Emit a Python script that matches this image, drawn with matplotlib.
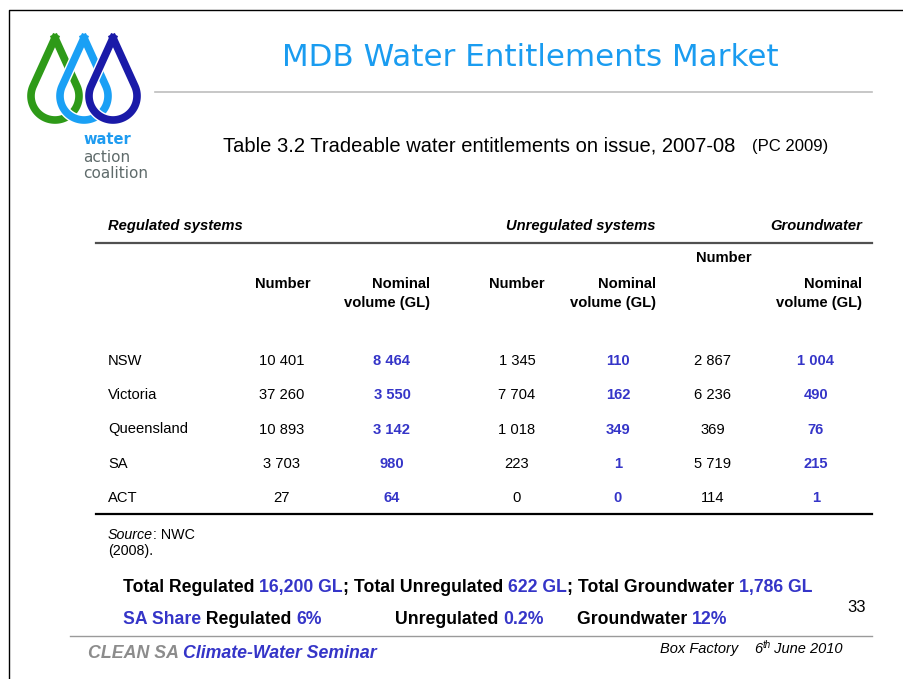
import numpy as np
import matplotlib.pyplot as plt
from matplotlib import font_manager
import matplotlib.patheffects as pe

# table data (Table 3.2, PC 2009)
states = ['NSW', 'Victoria', 'Queensland', 'SA', 'ACT']
reg_number = [10401, 37260, 10893, 3703, 27]
reg_volume = [8464, 3550, 3142, 980, 64]
unreg_number = [1345, 7704, 1018, 223, 0]
unreg_volume = [110, 162, 349, 1, 0]
gw_number = [2867, 6236, 369, 5719, 114]
gw_volume = [1004, 490, 76, 215, 1]

names = {f.name for f in font_manager.fontManager.ttflist}
NARROW = 'Liberation Sans Narrow' in names
ARIAL = 'Liberation Sans'
NFONT = 'Liberation Sans Narrow' if NARROW else ARIAL
nscale = 1.0 if NARROW else 0.82

BLUE = '#3535c8'
TITLE_BLUE = '#1a9cf0'

fig = plt.figure(figsize=(9.04, 6.79), dpi=100)
ax = fig.add_axes([0, 0, 1, 1])
ax.set_xlim(0, 904)
ax.set_ylim(679, 0)
ax.axis('off')
renderer = fig.canvas.get_renderer()

# slide border
ax.plot([9.5, 9.5, 904], [679, 9.5, 9.5], color='black', lw=1)


# logo drops
def drop(cx, tip, cy, r, color):
    d = cy - tip
    a0 = np.arccos(r / d)
    th = np.linspace(a0, 2 * np.pi - a0, 120)
    xs = np.concatenate([[cx], cx + r * np.sin(th), [cx]])
    ys = np.concatenate([[tip], cy - r * np.cos(th), [tip]])
    ax.plot(xs, ys, color=color, lw=5.5, solid_joinstyle='miter',
            path_effects=[pe.Stroke(linewidth=7.5, foreground='white'), pe.Normal()])


drop(55, 38, 96, 24, '#2e9a18')
drop(84, 38, 96, 24, '#1aa0f5')
drop(113, 38, 96, 24, '#1a1aa8')

ax.text(83, 140, 'water', fontsize=10.5, fontweight='bold', color='#1e9bf0', va='center')
ax.text(83, 157, 'action', fontsize=11, color='#5f6b6b', va='center')
ax.text(83, 173, 'coalition', fontsize=11, color='#5f6b6b', va='center')

# titles
ax.text(530, 57, 'MDB Water Entitlements Market', fontsize=22.3, color=TITLE_BLUE,
        ha='center', va='center')
ax.plot([155, 872], [92, 92], color='#bdbdbd', lw=1.2)

ax.text(223, 146, 'Table 3.2 Tradeable water entitlements on issue, 2007-08',
        family=ARIAL, fontsize=14.5, va='center')
ax.text(752, 147, '(PC 2009)', family=ARIAL, fontsize=12, va='center')

# table header
hkw = dict(family=NFONT, fontsize=13 * nscale, fontweight='bold', va='center')
ax.text(108, 226, 'Regulated systems', style='italic', ha='left', **hkw)
ax.text(656, 226, 'Unregulated systems', style='italic', ha='right', **hkw)
ax.text(862, 226, 'Groundwater', style='italic', ha='right', **hkw)
ax.plot([96, 872], [243, 243], color='#505050', lw=1.6)

ax.text(724, 258, 'Number', ha='center', **hkw)
ax.text(283, 284, 'Number', ha='center', **hkw)
ax.text(517, 284, 'Number', ha='center', **hkw)
for xr in [430, 656, 862]:
    ax.text(xr, 284, 'Nominal', ha='right', **hkw)
    ax.text(xr, 303, 'volume (GL)', ha='right', **hkw)

# table body
col_x = [282, 392, 517, 618, 713, 816]
row_y = np.linspace(361, 498, len(states))
columns = [reg_number, reg_volume, unreg_number, unreg_volume, gw_number, gw_volume]
bkw = dict(family=NFONT, fontsize=13 * nscale, va='center')


def fmt(v):
    return f'{v:,}'.replace(',', ' ')


for i, st in enumerate(states):
    ax.text(108, row_y[i], st, ha='left', **bkw)
    for j, col in enumerate(columns):
        if j % 2 == 1:
            ax.text(col_x[j], row_y[i], fmt(col[i]), ha='center', color=BLUE,
                    fontweight='bold', **bkw)
        else:
            ax.text(col_x[j], row_y[i], fmt(col[i]), ha='center', **bkw)
ax.plot([96, 872], [514, 514], color='black', lw=1.6)


# pieces of text on one baseline, placed one after another
def chain(x, y, parts, **kw):
    for p in parts:
        s, c = p[0], p[1]
        extra = p[2] if len(p) > 2 else {}
        opts = dict(kw)
        opts.update(extra)
        dy = opts.pop('dy', 0)
        t = ax.text(x, y + dy, s, color=c, va='baseline', **opts)
        x += t.get_window_extent(renderer).width
    return x


skw = dict(family=NFONT, fontsize=12.5 * nscale)
chain(108, 539, [('Source', 'black', {'style': 'italic'}), (': NWC', 'black')], **skw)
chain(108, 555, [('(2008).', 'black')], **skw)

tot_reg = sum(reg_volume)
tot_unreg = sum(unreg_volume)
tot_gw = sum(gw_volume)
sa = states.index('SA')

lkw = dict(family=NFONT, fontsize=15.5 * nscale, fontweight='bold')
chain(123, 592, [('Total Regulated ', 'black'), (f'{tot_reg:,} GL', BLUE),
                 ('; Total Unregulated ', 'black'), (f'{tot_unreg:,} GL', BLUE),
                 ('; Total Groundwater ', 'black'), (f'{tot_gw:,} GL', BLUE)], **lkw)
chain(123, 624, [('SA Share', BLUE), (' Regulated ', 'black'),
                 (f'{100 * reg_volume[sa] / tot_reg:.0f}%', BLUE)], **lkw)
chain(395, 624, [('Unregulated ', 'black'),
                 (f'{100 * unreg_volume[sa] / tot_unreg:.1f}%', BLUE)], **lkw)
chain(577, 624, [('Groundwater ', 'black'),
                 (f'{100 * gw_volume[sa] / tot_gw:.0f}%', BLUE)], **lkw)

ax.text(857, 608, '33', family=ARIAL, fontsize=12, ha='center', va='center')

# footer
ax.plot([70, 872], [636, 636], color='#9a9a9a', lw=1)
fkw = dict(family=NFONT, fontsize=15.6 * nscale, fontweight='bold', style='italic')
chain(88, 658, [('CLEAN SA ', '#8c8c8c'), ('Climate-Water Seminar', BLUE)], **fkw)

ikw = dict(family=ARIAL, fontsize=10.5, style='italic')
chain(660, 653, [('Box Factory', 'black')], **ikw)
chain(754, 653, [('6', 'black'), ('th', 'black', {'fontsize': 7, 'dy': -5}),
                 (' June 2010', 'black')], **ikw)

plt.savefig('out.png', dpi=100)
